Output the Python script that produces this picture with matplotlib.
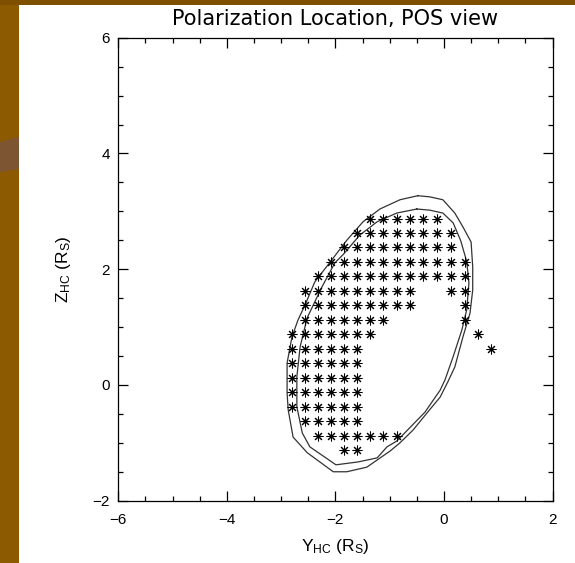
import numpy as np
import matplotlib
matplotlib.use('Agg')
import matplotlib.pyplot as plt
from matplotlib.patches import Rectangle, Polygon

plt.rcParams['font.family'] = ['Liberation Sans', 'DejaVu Sans']
plt.rcParams['mathtext.fontset'] = 'custom'
plt.rcParams['mathtext.rm'] = 'Liberation Sans'
plt.rcParams['mathtext.it'] = 'Liberation Sans'

# polarization locations, one list of Y_HC per Z_HC row
z_rows = [2.875, 2.625, 2.375, 2.125, 1.875, 1.625, 1.375, 1.125, 0.875,
          0.625, 0.375, 0.125, -0.125, -0.375, -0.625, -0.875, -1.125]
y_rows = [
    [-1.355, -1.115, -0.865, -0.625, -0.38, -0.13],
    [-1.595, -1.355, -1.115, -0.865, -0.625, -0.38, -0.13, 0.125],
    [-1.84, -1.595, -1.355, -1.115, -0.865, -0.625, -0.38, -0.13, 0.125],
    [-2.08, -1.84, -1.595, -1.355, -1.115, -0.865, -0.625, -0.38, -0.13, 0.125, 0.385],
    [-2.32, -2.08, -1.84, -1.595, -1.355, -1.115, -0.865, -0.625, -0.38, -0.13, 0.125, 0.385],
    [-2.565, -2.32, -2.08, -1.84, -1.595, -1.355, -1.115, -0.865, -0.625, 0.125, 0.385],
    [-2.565, -2.32, -2.08, -1.84, -1.595, -1.355, -1.115, -0.865, -0.625, 0.385],
    [-2.565, -2.32, -2.08, -1.84, -1.595, -1.355, -1.115, 0.385],
    [-2.80, -2.565, -2.32, -2.08, -1.84, -1.595, -1.355, 0.63],
    [-2.80, -2.565, -2.32, -2.08, -1.84, -1.595, 0.86],
    [-2.80, -2.565, -2.32, -2.08, -1.84, -1.595],
    [-2.80, -2.565, -2.32, -2.08, -1.84, -1.595],
    [-2.80, -2.565, -2.32, -2.08, -1.84, -1.595],
    [-2.80, -2.565, -2.32, -2.08, -1.84, -1.595],
    [-2.565, -2.32, -2.08, -1.84, -1.595],
    [-2.32, -2.08, -1.84, -1.595, -1.355, -1.115, -0.865],
    [-1.84, -1.595],
]

# outer and inner shell outlines
outer_y = [-0.48, -0.26, -0.02, 0.20, 0.35, 0.50, 0.53, 0.53, 0.48, 0.35, 0.20,
           0.07, -0.07, -0.30, -0.57, -0.81, -0.99, -1.42, -1.79, -2.04, -2.52,
           -2.78, -2.87, -2.89, -2.89, -2.80, -2.69, -2.56, -2.38, -2.10, -1.79,
           -1.49, -1.18, -0.81]
outer_z = [3.27, 3.25, 3.20, 2.97, 2.73, 2.47, 2.04, 1.64, 1.24, 0.83, 0.31,
           0.05, -0.21, -0.47, -0.78, -1.00, -1.14, -1.42, -1.50, -1.50, -1.17,
           -0.90, -0.43, -0.14, 0.38, 0.83, 1.12, 1.38, 1.78, 2.12, 2.50,
           2.82, 3.04, 3.20]
inner_y = [-0.50, -0.26, -0.02, 0.17, 0.31, 0.42, 0.46, 0.42, 0.33, 0.17, 0.02,
           -0.07, -0.35, -0.63, -0.87, -1.05, -1.23, -1.58, -1.99, -2.47, -2.61,
           -2.71, -2.71, -2.65, -2.52, -2.25, -2.01, -1.86, -1.55, -1.23, -0.87]
inner_z = [3.04, 3.02, 2.97, 2.80, 2.49, 2.13, 1.76, 1.30, 0.95, 0.49, 0.09,
           -0.09, -0.47, -0.74, -0.97, -1.07, -1.26, -1.33, -1.38, -1.07, -0.83,
           -0.38, 0.14, 0.66, 1.16, 1.69, 2.11, 2.25, 2.59, 2.82, 2.97]

fig = plt.figure(figsize=(5.75, 5.63), dpi=100)
fig.patch.set_facecolor('white')

# slide frame: brown strip on the left, thin bar along the top
fig.patches.append(Rectangle((0, 0), 19 / 575, 1, transform=fig.transFigure,
                             facecolor='#8C5A00', edgecolor='none', zorder=0))
fig.patches.append(Rectangle((0, 1 - 5 / 563), 1, 5 / 563, transform=fig.transFigure,
                             facecolor='#7F4F00', edgecolor='none', zorder=0))
band = [(0, 1 - 142 / 563), (19 / 575, 1 - 137 / 563),
        (19 / 575, 1 - 169 / 563), (0, 1 - 172 / 563)]
fig.patches.append(Polygon(band, closed=True, transform=fig.transFigure,
                           facecolor='#7E5532', edgecolor='none', zorder=1))

ax = fig.add_axes([118.3 / 575, 1 - 500.7 / 563, 434.2 / 575, 463 / 563])

ax.plot(outer_y + outer_y[:1], outer_z + outer_z[:1], color='#333333', lw=0.9)
ax.plot(inner_y + inner_y[:1], inner_z + inner_z[:1], color='#333333', lw=0.9)

for z, ys in zip(z_rows, y_rows):
    ax.plot(ys, [z] * len(ys), linestyle='none', marker=(8, 2, 0),
            markersize=7, markeredgewidth=0.75, color='black')

ax.set_xlim(-6, 2)
ax.set_ylim(-2, 6)
ax.set_xticks([-6, -4, -2, 0, 2])
ax.set_yticks([-2, 0, 2, 4, 6])
ax.set_xticks(np.arange(-6, 2.01, 0.5), minor=True)
ax.set_yticks(np.arange(-2, 6.01, 0.5), minor=True)
ax.set_xticklabels(['\u22126', '\u22124', '\u22122', '0', '2'])
ax.set_yticklabels(['\u22122', '0', '2', '4', '6'])
ax.tick_params(which='both', direction='in', top=True, right=True,
               labelsize=11, colors='black', width=0.9)
ax.tick_params(which='major', length=7)
ax.tick_params(axis='x', which='major', pad=9)
ax.tick_params(axis='y', which='major', pad=6)
ax.tick_params(which='minor', length=3.5)
for s in ax.spines.values():
    s.set_linewidth(0.9)

ax.set_title('Polarization Location, POS view', fontsize=15, pad=9,
             family='DejaVu Sans')
ax.set_xlabel(r'Y$_{\mathrm{HC}}$ (R$_{\mathrm{S}}$)', fontsize=12.5, labelpad=7)
ax.set_ylabel(r'Z$_{\mathrm{HC}}$ (R$_{\mathrm{S}}$)', fontsize=12.5, labelpad=14)

fig.savefig('out.png', dpi=100)
